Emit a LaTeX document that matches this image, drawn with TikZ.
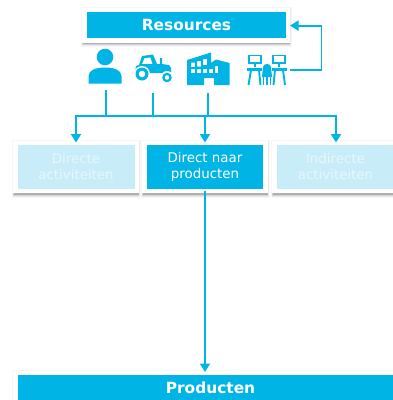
\documentclass[tikz,border=0pt]{standalone}
\usepackage{fontspec}
\setmainfont{DejaVu Sans}
\usetikzlibrary{arrows.meta}
\definecolor{kblue}{HTML}{00B5E6}
\definecolor{klight}{HTML}{C8EDF8}
\definecolor{kfaint}{HTML}{E6F7FC}
\newcommand{\softcard}[4]{%
  \fill[black,opacity=.03] (#1-1.5,#2-1) rectangle (#3+1.5,#4+4.5);
  \fill[black,opacity=.05] (#1-.5,#2) rectangle (#3+.5,#4+3.5);
  \fill[black,opacity=.10] (#1,#2) rectangle (#3,#4+2.5);
  \fill[black,opacity=.16] (#1+.5,#2) rectangle (#3-.5,#4+1.5);
  \fill[white] (#1,#2) rectangle (#3,#4);
}
\tikzset{
  x=1pt,y=-1pt,
  solidbox/.style={fill=kblue,text=white,inner sep=0pt,align=center,font=\fontsize{13.4}{16}\selectfont},
  palebox/.style={fill=klight,text=kfaint,inner sep=0pt,align=center,font=\fontsize{13.4}{16}\selectfont},
  headbox/.style={fill=kblue,text=white,inner sep=0pt,font=\fontsize{15.4}{18}\selectfont\bfseries},
  link/.style={draw=kblue,line width=1.9pt},
  arrowlink/.style={link,-{Triangle[width=10pt,length=8.5pt]}},
  anchorpt/.style={inner sep=0pt,minimum size=0pt},
  icon/.style={fill=kblue,draw=none},
  iconline/.style={draw=kblue,line width=1.9pt,fill=none},
}
\begin{document}
\begin{tikzpicture}
\useasboundingbox (0,0) rectangle (393,400);
% cards
\softcard{82}{8}{290}{42.5}
\softcard{13}{141}{139}{193}
\softcard{142}{141}{268}{193}
\softcard{272}{141}{400}{193}
\softcard{13}{371}{400}{405}
% boxes
\node[headbox,minimum width=198.5pt,minimum height=26pt] (res) at (186.5,25.3) {Resources};
\node[palebox,minimum width=117pt,minimum height=44pt] (dir) at (76,167) {Directe\\activiteiten};
\node[solidbox,minimum width=116pt,minimum height=44pt] (naar) at (205,167) {Direct naar\\producten};
\node[palebox,minimum width=117pt,minimum height=44pt] (ind) at (335.5,167) {Indirecte\\activiteiten};
\node[headbox,minimum width=376pt,minimum height=25pt,text width=376pt,align=center] (prod) at (206,387.5) {\hspace*{9pt}Producten};
% person
\fill[icon] (105,57) circle (8.3);
\fill[icon] (88.5,83.5) -- (88.5,76) .. controls (88.5,70) and (96,67.5) .. (105,67.5)
  .. controls (114,67.5) and (121.5,70) .. (121.5,76) -- (121.5,83.5) -- cycle;
% tractor
\fill[icon,even odd rule] (135,72) -- (136,66) -- (139,65) -- (142,56) -- (153,54.5) -- (157,64) -- (160,64) -- (160,58) -- (162,58) -- (162,64) -- (169,65) -- (171,68) -- (171,73) -- (135,73) -- cycle
  (144.5,58) -- (142,64) -- (152.5,64) -- (150.5,57.5) -- cycle;
\fill[white] (142,74) circle (8);
\fill[icon,even odd rule] (142,74) circle (6.5) (142,74) circle (3.4);
\fill[white] (167,77) circle (6);
\fill[icon,even odd rule] (167,77.5) circle (4.8) (167,77.5) circle (2.4);
% factory
\fill[icon,even odd rule] (187,85) -- (187,60) -- (211,52.5) -- (211,63) -- (216,59.5) -- (229.5,63) -- (229.5,85) -- (214,85) -- (214,78) -- (204,78) -- (204,85) -- cycle
  (191,62.5) rectangle (195,67) (197,61) rectangle (201,66.5) (203,59) rectangle (207,65)
  (191,69) rectangle (195,73) (197,69) rectangle (201,73) (203,69) rectangle (207,73) (209,69) rectangle (213,73)
  (215,66) rectangle (218,73);
% desks
\draw[iconline] (249,55.5) rectangle (261,63) (273,55.5) rectangle (285,63);
\draw[iconline] (255,63) -- (255,67) (279,63) -- (279,67);
\draw[kblue,line width=2.2pt] (247,69.5) -- (262,69.5) (272,69.5) -- (287,69.5);
\draw[kblue,line width=1.9pt] (251,70) -- (248.5,85) (259,70) -- (260.5,85) (283,70) -- (285,85) (275,70) -- (273.5,85);
\fill[icon] (262,77) -- (263,67) .. controls (263.5,63) and (270.5,63) .. (271,67) -- (272,77) -- cycle;
\draw[kblue,line width=1.5pt] (263.5,77) -- (263.5,85) (267,77) -- (267,85) (270.5,77) -- (270.5,85);
% connector anchors
\node[anchorpt] (person) at (106,90) {};
\node[anchorpt] (tractor) at (153,92.5) {};
\node[anchorpt] (factory) at (208,92.5) {};
\node[anchorpt] (desks) at (290,70.4) {};
\node[anchorpt] (hub) at (205,116) {};
\coordinate (bus1) at (106,116);
\coordinate (bus2) at (153,116);
\coordinate (bus3) at (208,116);
\coordinate (resin) at (290,25.6);
\coordinate (turn) at (321.5,25.6);
\draw[link] (person) -- (bus1);
\draw[link] (tractor) -- (bus2);
\draw[link] (factory) -- (bus3);
\draw[arrowlink] (hub.center) -| (76,142.5);
\draw[arrowlink] (hub.center) -| (336,142.5);
\draw[arrowlink] (hub.center) -- (205,142.5);
\draw[arrowlink] (naar.south) ++(0,2) -- (205,372);
\draw[arrowlink] (desks.center) -| (turn) -- (resin);
\end{tikzpicture}
\end{document}
